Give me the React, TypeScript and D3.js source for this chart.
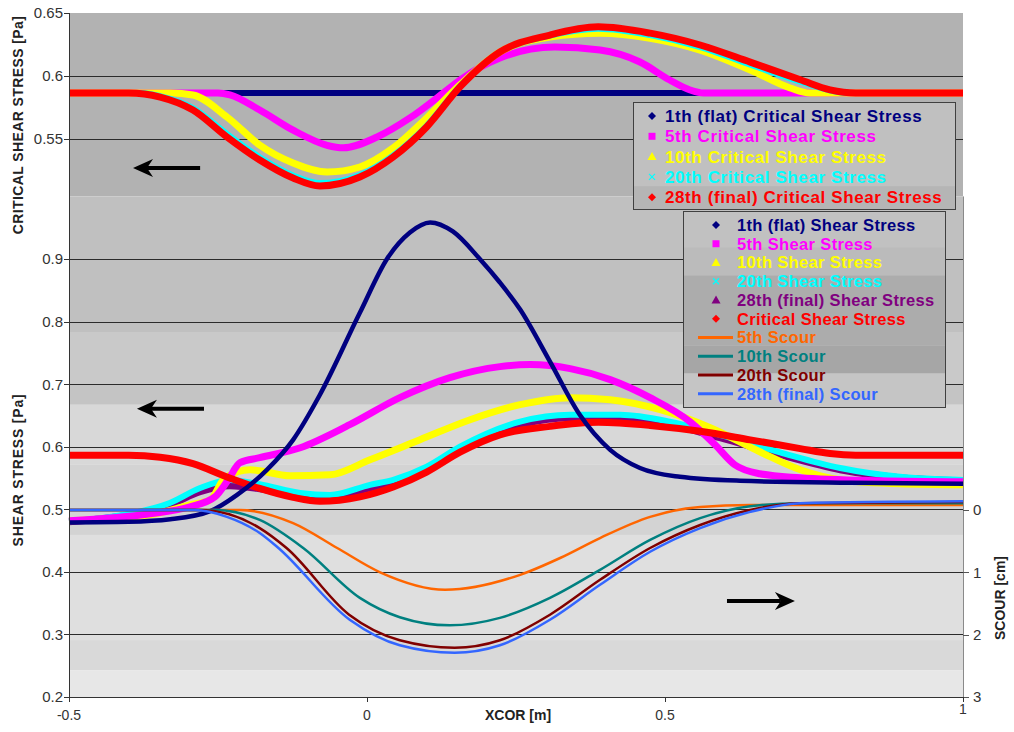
import React, { useEffect, useRef } from "react";
import * as d3 from "d3";

type Pt = [number, number];

// ---- top panel: critical shear stress [Pa] vs XCOR [m]
const crit1: Pt[] = [[-0.5, 0.5865], [1, 0.5865]];
const crit5: Pt[] = [[-0.5, 0.5865], [-0.25, 0.5865], [-0.23, 0.585], [-0.18, 0.573], [-0.124, 0.557], [-0.067, 0.545], [-0.04, 0.543], [0.017, 0.5516], [0.072, 0.5667], [0.128, 0.5865], [0.156, 0.5968], [0.223, 0.6143], [0.315, 0.623], [0.391, 0.6206], [0.458, 0.6111], [0.508, 0.5968], [0.542, 0.5889], [0.565, 0.5865], [1, 0.5865]];
const crit10: Pt[] = [[-0.5, 0.5865], [-0.33, 0.5865], [-0.292, 0.5849], [-0.235, 0.5675], [-0.18, 0.5452], [-0.124, 0.531], [-0.067, 0.5238], [-0.012, 0.5278], [0.044, 0.5429], [0.1, 0.5667], [0.156, 0.5929], [0.223, 0.619], [0.307, 0.631], [0.391, 0.634], [0.475, 0.63], [0.559, 0.6206], [0.643, 0.6048], [0.71, 0.5905], [0.743, 0.5865], [1, 0.5865]];
const crit20: Pt[] = [[-0.5, 0.5865], [-0.38, 0.5865], [-0.347, 0.584], [-0.292, 0.5745], [-0.235, 0.554], [-0.18, 0.5355], [-0.124, 0.521], [-0.079, 0.515], [-0.012, 0.5215], [0.044, 0.537], [0.1, 0.5605], [0.156, 0.592], [0.223, 0.619], [0.307, 0.632], [0.388, 0.6375], [0.475, 0.6325], [0.559, 0.623], [0.643, 0.609], [0.727, 0.5955], [0.777, 0.5885], [0.81, 0.5865], [1, 0.5865]];
const crit28: Pt[] = [[-0.5, 0.5865], [-0.4, 0.5865], [-0.347, 0.5833], [-0.292, 0.573], [-0.235, 0.5516], [-0.18, 0.5333], [-0.124, 0.519], [-0.079, 0.5127], [-0.012, 0.5198], [0.044, 0.5357], [0.1, 0.5595], [0.156, 0.5913], [0.223, 0.619], [0.307, 0.6325], [0.388, 0.639], [0.475, 0.634], [0.559, 0.6246], [0.643, 0.611], [0.727, 0.597], [0.777, 0.589], [0.82, 0.5865], [1, 0.5865]];

// ---- lower panel: shear stress [Pa]
const shear1: Pt[] = [[-0.5, 0.479], [-0.4, 0.48], [-0.33, 0.484], [-0.263, 0.497], [-0.218, 0.523], [-0.168, 0.563], [-0.124, 0.611], [-0.079, 0.683], [-0.012, 0.814], [0.034, 0.9008], [0.072, 0.9424], [0.106, 0.9584], [0.144, 0.944], [0.19, 0.8992], [0.223, 0.8624], [0.257, 0.8192], [0.307, 0.736], [0.357, 0.651], [0.408, 0.595], [0.458, 0.566], [0.525, 0.552], [0.626, 0.5456], [0.81, 0.5424], [1, 0.541]];
const shear5: Pt[] = [[-0.5, 0.4816], [-0.364, 0.4928], [-0.297, 0.504], [-0.255, 0.52], [-0.233, 0.547], [-0.213, 0.5744], [-0.18, 0.5824], [-0.112, 0.5984], [-0.029, 0.6352], [0.055, 0.6784], [0.139, 0.7104], [0.223, 0.728], [0.274, 0.7312], [0.341, 0.7248], [0.408, 0.7072], [0.475, 0.6784], [0.542, 0.64], [0.584, 0.6032], [0.617, 0.5712], [0.659, 0.5568], [0.727, 0.5504], [0.861, 0.5456], [1, 0.544]];
const shear10: Pt[] = [[-0.5, 0.4816], [-0.364, 0.4912], [-0.297, 0.5072], [-0.263, 0.5152], [-0.238, 0.5504], [-0.196, 0.5632], [-0.129, 0.5536], [-0.062, 0.5552], [0.005, 0.5792], [0.089, 0.6112], [0.173, 0.6432], [0.257, 0.6672], [0.341, 0.6784], [0.408, 0.6752], [0.492, 0.6592], [0.576, 0.6304], [0.659, 0.592], [0.727, 0.5632], [0.794, 0.5472], [0.894, 0.5408], [1, 0.5392]];
const shear20: Pt[] = [[-0.5, 0.481], [-0.398, 0.493], [-0.331, 0.51], [-0.28, 0.534], [-0.23, 0.547], [-0.18, 0.54], [-0.112, 0.526], [-0.062, 0.523], [0.005, 0.539], [0.044, 0.547], [0.1, 0.568], [0.156, 0.6], [0.257, 0.64], [0.341, 0.651], [0.425, 0.651], [0.508, 0.64], [0.592, 0.619], [0.693, 0.591], [0.794, 0.566], [0.894, 0.552], [1, 0.547]];
const shear28: Pt[] = [[-0.5, 0.48], [-0.398, 0.4912], [-0.331, 0.5072], [-0.28, 0.528], [-0.23, 0.5376], [-0.18, 0.5328], [-0.112, 0.52], [-0.062, 0.5184], [0.005, 0.5344], [0.044, 0.5424], [0.1, 0.5632], [0.156, 0.5952], [0.257, 0.6352], [0.341, 0.6464], [0.425, 0.6464], [0.508, 0.6352], [0.592, 0.6144], [0.693, 0.5872], [0.794, 0.5632], [0.894, 0.5504], [1, 0.5456]];

// ---- scour [cm] (right axis, downward)
const scour5: Pt[] = [[-0.5, 0], [-0.213, 0], [-0.124, 0.21], [-0.05, 0.61], [0.022, 1.0], [0.131, 1.28], [0.257, 1.04], [0.324, 0.77], [0.391, 0.45], [0.475, 0.11], [0.559, -0.05], [0.643, -0.08], [1, -0.08]];
const scour10: Pt[] = [[-0.5, 0], [-0.255, 0], [-0.18, 0.16], [-0.107, 0.61], [-0.012, 1.41], [0.055, 1.72], [0.139, 1.85], [0.223, 1.73], [0.307, 1.41], [0.391, 0.96], [0.475, 0.48], [0.559, 0.13], [0.643, -0.06], [0.727, -0.11], [1, -0.11]];
const scour20: Pt[] = [[-0.5, 0], [-0.28, 0], [-0.18, 0.29], [-0.135, 0.61], [-0.03, 1.68], [0.055, 2.09], [0.147, 2.21], [0.223, 2.09], [0.307, 1.68], [0.391, 1.12], [0.475, 0.61], [0.559, 0.24], [0.643, 0], [0.727, -0.11], [1, -0.13]];
const scour28: Pt[] = [[-0.5, 0], [-0.289, 0], [-0.235, 0.11], [-0.18, 0.37], [-0.151, 0.59], [-0.029, 1.76], [0.055, 2.17], [0.147, 2.29], [0.223, 2.17], [0.307, 1.76], [0.391, 1.2], [0.475, 0.67], [0.559, 0.29], [0.643, 0.03], [0.727, -0.11], [1, -0.14]];

const xTicks = [-0.5, 0, 0.5, 1];
const topTicks = [0.55, 0.6, 0.65];
const lowTicks = [0.2, 0.3, 0.4, 0.5, 0.6, 0.7, 0.8, 0.9];
const scourTicks = [0, 1, 2, 3];

const legendTop = [
  { label: "1th (flat) Critical Shear Stress", color: "#000080", mark: "diamond" },
  { label: "5th Critical Shear Stress", color: "#ff00ff", mark: "square" },
  { label: "10th Critical Shear Stress", color: "#ffff00", mark: "triangle" },
  { label: "20th Critical Shear Stress", color: "#00ffff", mark: "cross" },
  { label: "28th (final) Critical Shear Stress", color: "#ff0000", mark: "diamond" },
];
const legendLow = [
  { label: "1th (flat) Shear Stress", color: "#000080", mark: "diamond" },
  { label: "5th Shear Stress", color: "#ff00ff", mark: "square" },
  { label: "10th Shear Stress", color: "#ffff00", mark: "triangle" },
  { label: "20th Shear Stress", color: "#00ffff", mark: "cross" },
  { label: "28th (final) Shear Stress", color: "#800080", mark: "triangle" },
  { label: "Critical Shear Stress", color: "#ff0000", mark: "diamond" },
  { label: "5th Scour", color: "#ff6600", mark: "line" },
  { label: "10th Scour", color: "#008080", mark: "line" },
  { label: "20th Scour", color: "#800000", mark: "line" },
  { label: "28th (final) Scour", color: "#3366ff", mark: "line" },
];

const FONT = "'Liberation Sans', Arial, sans-serif";

export default function App() {
  const svgRef = useRef<SVGSVGElement>(null);

  useEffect(() => {
    const svg = d3.select(svgRef.current);
    svg.selectAll("*").remove();

    const x = d3.scaleLinear().domain([-0.5, 1]).range([69, 963]);
    const yTop = d3.scaleLinear().domain([0.55, 0.65]).range([139, 13]);
    const yLow = d3.scaleLinear().domain([0.2, 0.9]).range([697, 259]);
    const yScour = d3.scaleLinear().domain([0, 3]).range([510, 697]);
    const [x0, x1] = x.range();
    const topEdge = yTop(0.65);
    const split = yLow(1.0);
    const bottom = yLow(0.2);

    // backgrounds
    svg.append("rect").attr("x", x0).attr("y", topEdge).attr("width", x1 - x0)
      .attr("height", split - topEdge).attr("fill", "#b2b2b2");
    const bands: [number, number, string][] = [
      [1.0, 0.782, "#c0c0c0"], [0.782, 0.7, "#c9c9c9"], [0.7, 0.667, "#c4c4c4"],
      [0.667, 0.571, "#d8d8d8"], [0.571, 0.459, "#d3d3d3"], [0.459, 0.291, "#dfdfdf"],
      [0.291, 0.243, "#d9d9d9"], [0.243, 0.2, "#e7e7e7"],
    ];
    bands.forEach(([a, b, c]) => {
      svg.append("rect").attr("x", x0).attr("y", yLow(a)).attr("width", x1 - x0)
        .attr("height", yLow(b) - yLow(a)).attr("fill", c);
    });

    // grid
    const grid = svg.append("g").attr("stroke", "#2b2b2b").attr("stroke-width", 1);
    [0.55, 0.6].forEach((t) => grid.append("line").attr("x1", x0).attr("x2", x1)
      .attr("y1", Math.round(yTop(t)) + 0.5).attr("y2", Math.round(yTop(t)) + 0.5));
    lowTicks.filter((t) => t > 0.2).forEach((t) => grid.append("line").attr("x1", x0).attr("x2", x1)
      .attr("y1", Math.round(yLow(t)) + 0.5).attr("y2", Math.round(yLow(t)) + 0.5));

    const draw = (data: Pt[], y: d3.ScaleLinear<number, number>, color: string, w: number) => {
      const line = d3.line<Pt>().x((d) => x(d[0])).y((d) => y(d[1])).curve(d3.curveMonotoneX);
      svg.append("path").attr("d", line(data)).attr("fill", "none").attr("stroke", color)
        .attr("stroke-width", w).attr("stroke-linejoin", "round");
    };

    // top panel
    draw(crit1, yTop, "#000080", 6);
    draw(crit5, yTop, "#ff00ff", 7);
    draw(crit10, yTop, "#ffff00", 7);
    draw(crit20, yTop, "#00ffff", 6);
    draw(crit28, yTop, "#ff0000", 7);

    // lower panel
    draw(shear28, yLow, "#800080", 7);
    draw(shear20, yLow, "#00ffff", 6);
    draw(shear10, yLow, "#ffff00", 7);
    draw(shear5, yLow, "#ff00ff", 7);
    draw(crit28, yLow, "#ff0000", 7);
    draw(shear1, yLow, "#000080", 4.5);

    draw(scour5, yScour, "#ff6600", 2.5);
    draw(scour10, yScour, "#008080", 2.5);
    draw(scour20, yScour, "#800000", 2.5);
    draw(scour28, yScour, "#3366ff", 2.5);

    // axes
    const ax = svg.append("g").attr("font-family", FONT).attr("font-size", 15).attr("fill", "#333");
    ax.append("line").attr("x1", x0 + 0.5).attr("x2", x0 + 0.5).attr("y1", topEdge).attr("y2", bottom)
      .attr("stroke", "#333");
    ax.append("line").attr("x1", x0).attr("x2", x1).attr("y1", bottom + 0.5).attr("y2", bottom + 0.5)
      .attr("stroke", "#333");
    ax.append("line").attr("x1", x1 + 0.5).attr("x2", x1 + 0.5).attr("y1", split).attr("y2", bottom)
      .attr("stroke", "#8a8a8a");
    const leftTick = (yy: number, label: string) => {
      ax.append("line").attr("x1", x0 - 5).attr("x2", x0).attr("y1", Math.round(yy) + 0.5)
        .attr("y2", Math.round(yy) + 0.5).attr("stroke", "#333");
      ax.append("text").attr("x", x0 - 6).attr("y", yy).attr("dy", "0.36em")
        .attr("text-anchor", "end").text(label);
    };
    topTicks.forEach((t) => leftTick(yTop(t), String(t)));
    lowTicks.forEach((t) => leftTick(yLow(t), String(t)));
    scourTicks.forEach((t) => {
      const yy = Math.round(yScour(t)) + 0.5;
      ax.append("line").attr("x1", x1).attr("x2", x1 + 6).attr("y1", yy).attr("y2", yy).attr("stroke", "#555");
      ax.append("text").attr("x", x1 + 10).attr("y", yScour(t)).attr("dy", "0.36em").text(String(t));
    });
    xTicks.forEach((t) => {
      const xx = Math.round(x(t)) + 0.5;
      ax.append("line").attr("x1", xx).attr("x2", xx).attr("y1", bottom).attr("y2", bottom + 5).attr("stroke", "#333");
      ax.append("text").attr("x", x(t)).attr("y", t === 1 ? bottom + 17 : bottom + 23)
        .attr("text-anchor", "middle").attr("font-size", 14).text(String(t));
    });

    // axis titles
    const tt = svg.append("g").attr("font-family", FONT).attr("font-weight", "bold")
      .attr("font-size", 14).attr("fill", "#222").attr("text-anchor", "middle");
    tt.append("text").attr("transform", `translate(23,125) rotate(-90)`)
      .attr("letter-spacing", 0.4).text("CRITICAL SHEAR STRESS [Pa]");
    tt.append("text").attr("transform", `translate(23,470) rotate(-90)`)
      .attr("letter-spacing", 0.8).text("SHEAR STRESS [Pa]");
    tt.append("text").attr("transform", `translate(1005,598) rotate(-90)`).text("SCOUR [cm]");
    tt.append("text").attr("x", 518).attr("y", bottom + 23).attr("font-size", 14).text("XCOR [m]");

    // arrows
    const arrow = (xa: number, xb: number, yy: number) => {
      const dir = xb > xa ? 1 : -1;
      const head = 20;
      svg.append("line").attr("x1", xa).attr("x2", xb - dir * head * 0.7).attr("y1", yy).attr("y2", yy)
        .attr("stroke", "#000").attr("stroke-width", 4);
      svg.append("path").attr("fill", "#000")
        .attr("d", `M${xb},${yy} L${xb - dir * head},${yy - 9} L${xb - dir * head * 0.7},${yy} L${xb - dir * head},${yy + 9} Z`);
    };
    arrow(x(-0.28), x(-0.3926), yTop(0.527));
    arrow(x(-0.2735), x(-0.386), yLow(0.6608));
    arrow(x(0.604), x(0.718), yScour(1.46));

    // legends
    const marker = (g: d3.Selection<SVGGElement, unknown, null, undefined>, mark: string, cx: number, cy: number, color: string) => {
      if (mark === "diamond") g.append("path").attr("d", `M${cx},${cy - 4} L${cx + 4},${cy} L${cx},${cy + 4} L${cx - 4},${cy} Z`).attr("fill", color);
      else if (mark === "square") g.append("rect").attr("x", cx - 3.5).attr("y", cy - 3.5).attr("width", 7).attr("height", 7).attr("fill", color);
      else if (mark === "triangle") g.append("path").attr("d", `M${cx},${cy - 4.5} L${cx + 4.5},${cy + 3.5} L${cx - 4.5},${cy + 3.5} Z`).attr("fill", color);
      else if (mark === "cross") g.append("path").attr("d", `M${cx - 3},${cy - 3} L${cx + 3},${cy + 3} M${cx + 3},${cy - 3} L${cx - 3},${cy + 3}`).attr("stroke", color).attr("stroke-width", 1.2);
      else g.append("line").attr("x1", cx - 18).attr("x2", cx + 17).attr("y1", cy).attr("y2", cy).attr("stroke", color).attr("stroke-width", 3);
    };

    const lg1 = svg.append("g").attr("font-family", FONT).attr("font-weight", "bold")
      .attr("font-size", 17).attr("letter-spacing", 0.6);
    lg1.append("rect").attr("x", 633.5).attr("y", 102.5).attr("width", 322).attr("height", 84).attr("fill", "#c0c0c0");
    lg1.append("rect").attr("x", 633.5).attr("y", 186.5).attr("width", 322).attr("height", 23).attr("fill", "#b5b5b5");
    lg1.append("rect").attr("x", 633.5).attr("y", 102.5).attr("width", 322).attr("height", 107)
      .attr("fill", "none").attr("stroke", "#404040");
    legendTop.forEach((d, i) => {
      const cy = 116 + i * 20.3;
      marker(lg1, d.mark, 652, cy, d.color);
      lg1.append("text").attr("x", 665).attr("y", cy).attr("dy", "0.36em").attr("fill", d.color).text(d.label);
    });

    const lg2 = svg.append("g").attr("font-family", FONT).attr("font-weight", "bold")
      .attr("font-size", 16.5).attr("letter-spacing", 0.35);
    const lgBands: [number, number, string][] = [[211, 247, "#c1c1c1"], [247, 275, "#bbbbbb"], [275, 345, "#acacac"], [345, 373, "#a6a6a6"], [373, 407, "#c5c5c5"]];
    lgBands.forEach(([a, b, c]) => lg2.append("rect").attr("x", 683.5).attr("y", a + 0.5).attr("width", 262).attr("height", b - a).attr("fill", c));
    lg2.append("rect").attr("x", 683.5).attr("y", 211.5).attr("width", 262).attr("height", 196)
      .attr("fill", "none").attr("stroke", "#404040");
    legendLow.forEach((d, i) => {
      const cy = 225 + i * 18.75;
      marker(lg2, d.mark, 716, cy, d.color);
      lg2.append("text").attr("x", 737).attr("y", cy).attr("dy", "0.36em").attr("fill", d.color).text(d.label);
    });
  }, []);

  return (
    <div style={{ position: "absolute", left: 0, top: 0, background: "#fff" }}>
      <svg ref={svgRef} width={1014} height={732} style={{ display: "block" }} />
    </div>
  );
}
